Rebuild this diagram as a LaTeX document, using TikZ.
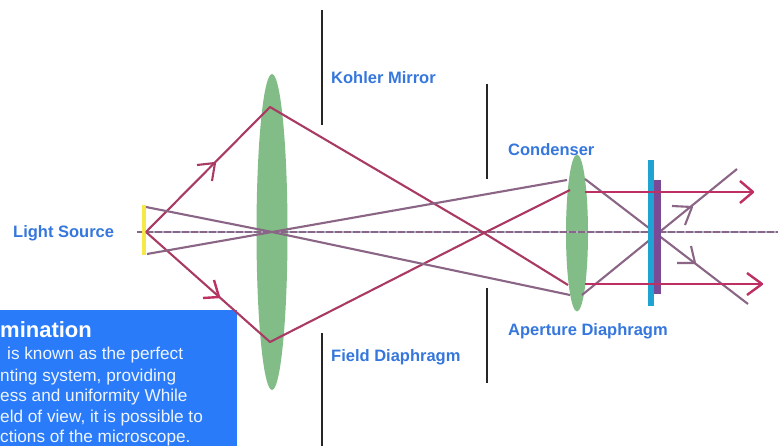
\documentclass[tikz,border=0pt]{standalone}
\usepackage{fontspec}
\setmainfont{Liberation Sans}
\definecolor{lensgreen}{HTML}{82BC87}
\definecolor{labelblue}{HTML}{3577DC}
\definecolor{boxblue}{HTML}{2A7BFA}
\definecolor{rayred}{HTML}{A93A63}
\definecolor{raygrey}{HTML}{8A6585}
\definecolor{hotred}{HTML}{BE2F63}
\definecolor{axisblue}{HTML}{6F7FA8}
\definecolor{cyanbar}{HTML}{1EA3D2}
\definecolor{purplebar}{HTML}{7A4A96}
\definecolor{srcyellow}{HTML}{F4E84A}
\tikzset{
  lbl/.style={font=\bfseries\fontsize{16.5}{18}\selectfont,text=labelblue,anchor=west,inner sep=0pt},
  boxtxt/.style={font=\fontsize{17.2}{19}\selectfont,text=white!92!boxblue,anchor=west,inner sep=0pt},
  stopbar/.style={line width=2.2pt,draw=black!85},
  redray/.style={line width=2.1pt,draw=rayred},
  greyray/.style={line width=2.1pt,draw=raygrey},
  hotray/.style={line width=2.4pt,draw=hotred},
  lens/.style={ellipse,fill=lensgreen,draw=none,inner sep=0pt}
}
\usetikzlibrary{shapes.geometric}
\begin{document}
\begin{tikzpicture}[x=1pt,y=-1pt]
\useasboundingbox (0,0) rectangle (778,446);
\fill[white] (0,0) rectangle (778,446);
% blue text box
\fill[boxblue] (0,310) rectangle (237,446);
\node[font=\bfseries\fontsize{22}{24}\selectfont,text=white,anchor=west,inner sep=0pt] (title) at (0,330) {mination};
\node[boxtxt] (l1) at (7,355) {is known as the perfect};
\node[boxtxt] (l2) at (0,377) {nting system, providing};
\node[boxtxt] (l3) at (0,397) {ess and uniformity While};
\node[boxtxt] (l4) at (0,418) {eld of view, it is possible to};
\node[boxtxt] (l5) at (0,438) {ctions of the microscope.};
% lenses
\node[lens,minimum width=31pt,minimum height=316pt] (lensA) at (272,232) {};
\node[lens,minimum width=22pt,minimum height=157pt] (lensB) at (577,233) {};
% diaphragms
\coordinate (s1a) at (322,10); \coordinate (s1b) at (322,125);
\coordinate (s2a) at (322,333); \coordinate (s2b) at (322,446);
\coordinate (s3a) at (487,84); \coordinate (s3b) at (487,179);
\coordinate (s4a) at (487,288); \coordinate (s4b) at (487,383);
\draw[stopbar] (s1a) -- (s1b);
\draw[stopbar] (s2a) -- (s2b);
\draw[stopbar] (s3a) -- (s3b);
\draw[stopbar] (s4a) -- (s4b);
% axis
\coordinate (axL) at (137,232); \coordinate (axR) at (778,232);
\draw[line width=2.6pt,draw=axisblue!60!white] (axL) -- (axR);
\draw[line width=1.4pt,draw=raygrey,dash pattern=on 7pt off 2pt] (axL) -- (axR);
% source
\coordinate (srcT) at (144,205); \coordinate (srcB) at (144,255);
\draw[line width=3.4pt,draw=srcyellow] (srcT) -- (srcB);
% key points
\coordinate (src) at (146,232);
\coordinate (gT) at (146,207); \coordinate (gB) at (147,254);
\coordinate (topA) at (270,107); \coordinate (botA) at (270,342);
\coordinate (focus) at (484,233);
\coordinate (inT) at (570,190); \coordinate (inB) at (568,285);
\coordinate (gInT) at (567,180); \coordinate (gInB) at (570,295);
\coordinate (outT) at (585,192); \coordinate (outB) at (585,284);
\coordinate (endT) at (753,192); \coordinate (endB) at (762,284);
\coordinate (gOutT) at (585,179); \coordinate (gOutB) at (582,295);
\coordinate (gEndB) at (748,304); \coordinate (gEndT) at (737,169);
% red rays
\draw[redray,line join=round] (src) -- (topA) -- (focus) -- (inB);
\draw[redray,line join=round] (src) -- (botA) -- (focus) -- (inT);
% grey rays
\draw[greyray,line join=round] (gT) -- (272,232) -- (gInB);
\draw[greyray,line join=round] (gB) -- (272,232) -- (gInT);
\draw[greyray] (gOutT) -- (gEndB);
\draw[greyray] (gOutB) -- (gEndT);
% bars
\fill[cyanbar] (648,160) rectangle (654,306);
\fill[purplebar] (654,180) rectangle (661,294);
% output rays
\draw[hotray] (outT) -- (endT);
\draw[hotray] (outB) -- (endB);
% chevrons
\draw[redray,line join=round] (197,165) -- (215,163) -- (212,181);
\draw[hotray,line join=round] (203,298) -- (219,297) -- (214,280);
\draw[greyray,line join=round] (672,206) -- (692,207) -- (685,225);
\draw[greyray,line join=round] (677,263) -- (695,263) -- (691,246);
\draw[hotray,line join=round] (740,181) -- (endT) -- (740,203);
\draw[hotray,line join=round] (747,273) -- (endB) -- (747,295);
% labels
\node[lbl] (kohler) at (331,78) {Kohler Mirror};
\node[lbl] (light) at (13,233) {Light Source};
\node[lbl] (cond) at (508,150) {Condenser};
\node[lbl] (aper) at (508,331) {Aperture Diaphragm};
\node[lbl] (field) at (331,357) {Field Diaphragm};
\end{tikzpicture}
\end{document}
